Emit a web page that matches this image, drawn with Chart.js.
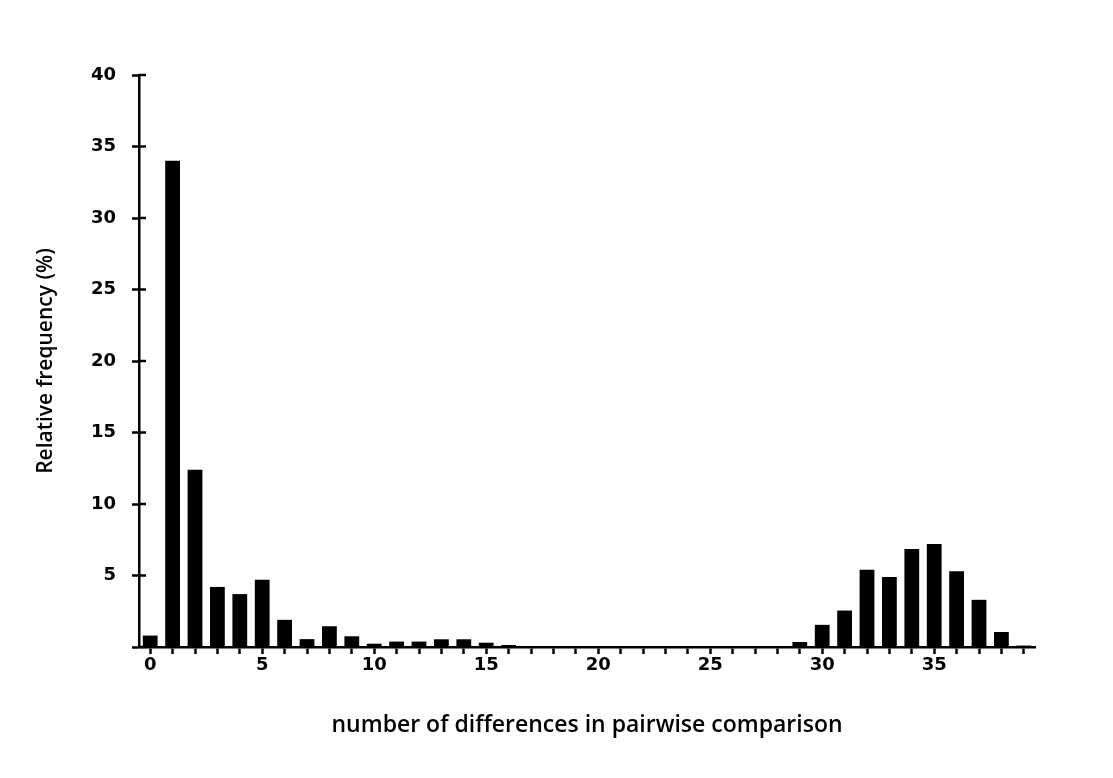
<!DOCTYPE html>
<html>
<head>
<meta charset="utf-8">
<title>Pairwise differences</title>
<script src="https://cdn.jsdelivr.net/npm/chart.js@4/dist/chart.umd.min.js"></script>
<style>
  html, body { margin: 0; padding: 0; background: #fff; }
  #wrap { width: 1113px; height: 778px; }
</style>
</head>
<body>
<div id="wrap"><canvas id="chart" width="1113" height="778"></canvas></div>
<script>
// number of differences (0..39) and relative frequency in %
const differences = Array.from({ length: 40 }, (_, i) => String(i));
const frequency = [
  0.8, 34.0, 12.4, 4.2, 3.7, 4.7, 1.9, 0.55, 1.45, 0.75,
  0.23, 0.38, 0.38, 0.54, 0.54, 0.3, 0.14, 0, 0, 0,
  0, 0, 0, 0, 0, 0, 0, 0, 0, 0.35,
  1.55, 2.55, 5.4, 4.9, 6.85, 7.2, 5.3, 3.3, 1.05, 0.1
];
const yTicks = [0, 5, 10, 15, 20, 25, 30, 35, 40];

// inner half of the y tick marks (Chart.js only draws them outside)
const innerTicks = {
  id: "innerTicks",
  afterDraw(chart) {
    const y = chart.scales.y;
    const ctx = chart.ctx;
    ctx.save();
    ctx.strokeStyle = "#000";
    ctx.lineWidth = 2.5;
    yTicks.forEach(v => {
      const py = y.getPixelForValue(v);
      ctx.beginPath();
      ctx.moveTo(chart.chartArea.left, py);
      ctx.lineTo(chart.chartArea.left + 7, py);
      ctx.stroke();
    });
    ctx.restore();
  }
};

const tickFont = { family: "DejaVu Sans", size: 18, weight: "bold" };

new Chart(document.getElementById("chart"), {
  type: "bar",
  data: {
    labels: differences,
    datasets: [{
      data: frequency,
      backgroundColor: "#000",
      borderWidth: 0,
      barPercentage: 0.66,
      categoryPercentage: 1.0
    }]
  },
  options: {
    responsive: false,
    animation: false,
    layout: { padding: { left: 0, top: 75, right: 78, bottom: 30 } },
    plugins: { legend: { display: false }, tooltip: { enabled: false } },
    scales: {
      x: {
        afterFit: s => { s.height = 101; },
        grid: { drawOnChartArea: false, offset: false, tickLength: 7, tickWidth: 2.5, tickColor: "#000" },
        border: { color: "#000", width: 2.5 },
        ticks: {
          autoSkip: false,
          maxRotation: 0,
          color: "#000",
          font: tickFont,
          padding: 1,
          callback: (v, i) => (i % 5 === 0 ? differences[i] : "")
        },
        title: {
          display: true,
          text: "number of differences in pairwise comparison",
          color: "#000",
          font: { family: "Open Sans", size: 23, weight: "600" },
          padding: { top: 0, bottom: 9 }
        }
      },
      y: {
        min: 0,
        max: 40,
        afterFit: s => { s.width = 139; },
        grid: { drawOnChartArea: false, tickLength: 7, tickWidth: 2.5, tickColor: "#000" },
        border: { color: "#000", width: 2.5 },
        ticks: {
          stepSize: 5,
          color: "#000",
          font: tickFont,
          padding: 16,
          callback: v => (v === 0 ? "" : v)
        },
        title: {
          display: true,
          text: "Relative frequency (%)",
          color: "#000",
          font: { family: "Open Sans", size: 21, weight: "600" },
          padding: { top: 33, bottom: 0 }
        }
      }
    }
  },
  plugins: [innerTicks]
});
</script>
</body>
</html>
